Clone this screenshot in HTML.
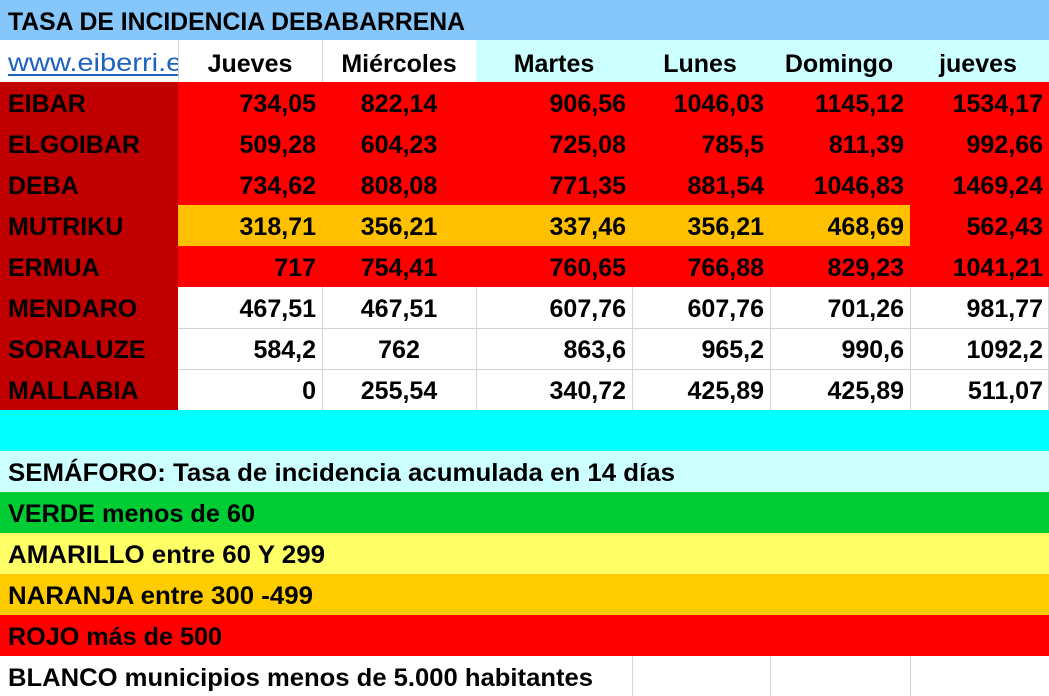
<!DOCTYPE html>
<html><head><meta charset="utf-8"><style>
html,body{margin:0;padding:0;background:#fff;}
svg{display:block;}
text{font-family:"Liberation Sans",sans-serif;font-weight:bold;font-size:25px;fill:#000;}
</style></head><body>
<svg width="1049" height="696" viewBox="0 0 1049 696" xmlns="http://www.w3.org/2000/svg">
<rect x="0" y="0" width="1049" height="40" fill="#85c6fb"/>
<rect x="0" y="40" width="476" height="42" fill="#fff"/>
<rect x="476" y="40" width="573" height="42" fill="#ccffff"/>
<line x1="178.5" y1="40" x2="178.5" y2="82" stroke="#d4d4d4"/>
<line x1="322.5" y1="40" x2="322.5" y2="82" stroke="#d4d4d4"/>
<rect x="178" y="82" width="871" height="205" fill="#ff0000"/>
<rect x="178" y="205" width="732" height="41" fill="#ffc000"/>
<rect x="0" y="82" width="178" height="328" fill="#c00000"/>
<g stroke="#d4d4d4">
<line x1="178" y1="328.5" x2="1049" y2="328.5"/>
<line x1="178" y1="369.5" x2="1049" y2="369.5"/>
<line x1="322.5" y1="287" x2="322.5" y2="410"/>
<line x1="476.5" y1="287" x2="476.5" y2="410"/>
<line x1="632.5" y1="287" x2="632.5" y2="410"/>
<line x1="770.5" y1="287" x2="770.5" y2="410"/>
<line x1="910.5" y1="287" x2="910.5" y2="410"/>
<line x1="1048.5" y1="287" x2="1048.5" y2="410"/>
<line x1="632.5" y1="656" x2="632.5" y2="696"/>
<line x1="770.5" y1="656" x2="770.5" y2="696"/>
<line x1="910.5" y1="656" x2="910.5" y2="696"/>
</g>
<rect x="0" y="410" width="1049" height="41" fill="#00ffff"/>
<rect x="0" y="451" width="1049" height="41" fill="#ccffff"/>
<rect x="0" y="492" width="1049" height="41" fill="#00cc33"/>
<rect x="0" y="533" width="1049" height="41" fill="#ffff66"/>
<rect x="0" y="574" width="1049" height="41" fill="#ffcc00"/>
<rect x="0" y="615" width="1049" height="41" fill="#ff0000"/>

<text x="8" y="30" textLength="457" lengthAdjust="spacingAndGlyphs">TASA DE INCIDENCIA DEBABARRENA</text>
<svg x="0" y="40" width="178" height="42"><text x="8" y="31" style="font-weight:normal;fill:#1f62c0" textLength="205" lengthAdjust="spacingAndGlyphs">www.eiberri.eus</text><line x1="8" y1="35" x2="178" y2="35" stroke="#1f62c0" stroke-width="2"/></svg>
<g text-anchor="middle">
<text x="250" y="72">Jueves</text>
<text x="399" y="72">Miércoles</text>
<text x="554" y="72">Martes</text>
<text x="700" y="72">Lunes</text>
<text x="839" y="72">Domingo</text>
<text x="978" y="72">jueves</text>
</g>
<g>
<text x="8" y="112">EIBAR</text>
<text x="8" y="153">ELGOIBAR</text>
<text x="8" y="194">DEBA</text>
<text x="8" y="235">MUTRIKU</text>
<text x="8" y="276">ERMUA</text>
<text x="8" y="317">MENDARO</text>
<text x="8" y="358">SORALUZE</text>
<text x="8" y="399">MALLABIA</text>
</g>
<g text-anchor="end">
<text x="316" y="112">734,05</text><text x="626" y="112">906,56</text><text x="764" y="112">1046,03</text><text x="904" y="112">1145,12</text><text x="1043" y="112">1534,17</text>
<text x="316" y="153">509,28</text><text x="626" y="153">725,08</text><text x="764" y="153">785,5</text><text x="904" y="153">811,39</text><text x="1043" y="153">992,66</text>
<text x="316" y="194">734,62</text><text x="626" y="194">771,35</text><text x="764" y="194">881,54</text><text x="904" y="194">1046,83</text><text x="1043" y="194">1469,24</text>
<text x="316" y="235">318,71</text><text x="626" y="235">337,46</text><text x="764" y="235">356,21</text><text x="904" y="235">468,69</text><text x="1043" y="235">562,43</text>
<text x="316" y="276">717</text><text x="626" y="276">760,65</text><text x="764" y="276">766,88</text><text x="904" y="276">829,23</text><text x="1043" y="276">1041,21</text>
<text x="316" y="317">467,51</text><text x="626" y="317">607,76</text><text x="764" y="317">607,76</text><text x="904" y="317">701,26</text><text x="1043" y="317">981,77</text>
<text x="316" y="358">584,2</text><text x="626" y="358">863,6</text><text x="764" y="358">965,2</text><text x="904" y="358">990,6</text><text x="1043" y="358">1092,2</text>
<text x="316" y="399">0</text><text x="626" y="399">340,72</text><text x="764" y="399">425,89</text><text x="904" y="399">425,89</text><text x="1043" y="399">511,07</text>
</g>
<g text-anchor="middle">
<text x="399" y="112">822,14</text>
<text x="399" y="153">604,23</text>
<text x="399" y="194">808,08</text>
<text x="399" y="235">356,21</text>
<text x="399" y="276">754,41</text>
<text x="399" y="317">467,51</text>
<text x="399" y="358">762</text>
<text x="399" y="399">255,54</text>
</g>
<text x="8" y="481" textLength="667" lengthAdjust="spacingAndGlyphs">SEMÁFORO:  Tasa de incidencia acumulada en 14 días</text>
<text x="8" y="522" textLength="247" lengthAdjust="spacingAndGlyphs">VERDE menos de 60</text>
<text x="8" y="563" textLength="317" lengthAdjust="spacingAndGlyphs">AMARILLO entre 60 Y 299</text>
<text x="8" y="604" textLength="305" lengthAdjust="spacingAndGlyphs">NARANJA entre 300 -499</text>
<text x="8" y="645" textLength="214" lengthAdjust="spacingAndGlyphs">ROJO más de 500</text>
<text x="8" y="686" textLength="585" lengthAdjust="spacingAndGlyphs">BLANCO municipios menos de 5.000 habitantes</text>
</svg>
</body></html>
